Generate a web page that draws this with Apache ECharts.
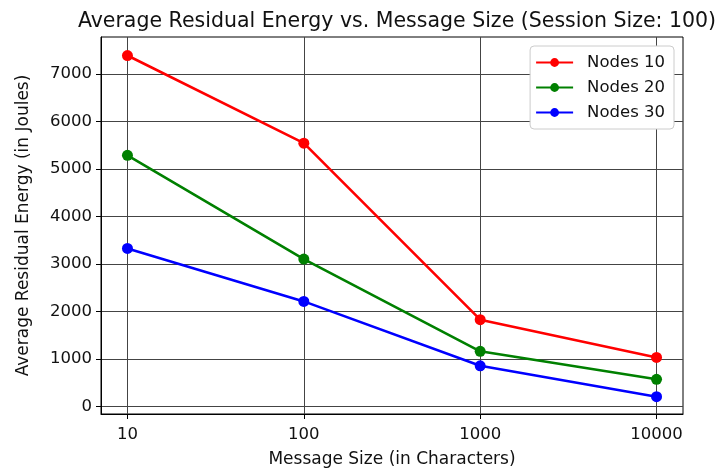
<!DOCTYPE html>
<html>
<head>
<meta charset="utf-8">
<script src="https://cdn.jsdelivr.net/npm/echarts@6/dist/echarts.min.js"></script>
<style>
  html, body { margin: 0; padding: 0; background: #fff; }
  #chart { width: 718px; height: 473px; }
</style>
</head>
<body>
<div id="chart"></div>
<script>
// message sizes (x, log scale) and residual energy per node count
const messageSizes = [10, 100, 1000, 10000];
const nodes10 = [7390, 5545, 1830, 1035];
const nodes20 = [5290, 3105, 1165, 575];
const nodes30 = [3330, 2215, 860, 210];
const yTicks = [0, 1000, 2000, 3000, 4000, 5000, 6000, 7000];

const font = 'DejaVu Sans';

// x is drawn on a value axis holding log10 of the size (matplotlib log axis)
function toPoints(values) {
    return messageSizes.map((s, i) => [Math.log10(s), values[i]]);
}

function makeSeries(name, color, values) {
    return {
        name: name,
        type: 'line',
        data: toPoints(values),
        symbol: 'circle',
        symbolSize: 11,
        lineStyle: { width: 2.6, color: color },
        itemStyle: { color: color },
        emphasis: { disabled: true }
    };
}

let option = {
    animation: false,
    backgroundColor: '#fff',
    textStyle: { fontFamily: font },
    title: {
        text: 'Average Residual Energy vs. Message Size (Session Size: 100)',
        left: 392,
        textAlign: 'center',
        top: 6,
        textStyle: { fontFamily: font, fontSize: 20.5, fontWeight: 'normal', color: '#111' }
    },
    legend: {
        right: 44,
        top: 46,
        orient: 'vertical',
        backgroundColor: '#fff',
        borderColor: '#cccccc',
        borderWidth: 1,
        borderRadius: 4,
        padding: [8, 9, 8, 5],
        itemGap: 8,
        itemWidth: 37,
        itemHeight: 11,
        textStyle: { fontFamily: font, fontSize: 16.5, color: '#111', padding: [0, 0, 0, 9] },
        data: ['Nodes 10', 'Nodes 20', 'Nodes 30']
    },
    grid: {
        left: 101,
        right: 35,
        top: 37,
        bottom: 56,
        show: true,
        borderColor: '#000',
        borderWidth: 1,
        backgroundColor: 'transparent'
    },
    xAxis: {
        type: 'value',
        min: 0.85,
        max: 4.15,
        name: 'Message Size (in Characters)',
        nameLocation: 'middle',
        nameGap: 37,
        nameTextStyle: { fontFamily: font, fontSize: 17, color: '#111' },
        axisLine: { show: true, onZero: false, lineStyle: { color: '#000' } },
        axisTick: {
            show: true, length: 5, lineStyle: { color: '#000' },
            customValues: messageSizes.map(s => Math.log10(s))
        },
        axisLabel: {
            fontFamily: font, fontSize: 16.5, color: '#111', margin: 12,
            customValues: messageSizes.map(s => Math.log10(s)),
            formatter: v => String(Math.round(Math.pow(10, v)))
        },
        splitLine: { show: true, lineStyle: { color: '#444', width: 1 } }
    },
    yAxis: {
        type: 'value',
        min: -155,
        max: 7780,
        name: 'Average Residual Energy (in Joules)',
        nameLocation: 'middle',
        nameGap: 69,
        nameTextStyle: { fontFamily: font, fontSize: 17, color: '#111' },
        axisLine: { show: true, onZero: false, lineStyle: { color: '#000' } },
        axisTick: {
            show: true, length: 5, lineStyle: { color: '#000' },
            customValues: yTicks
        },
        axisLabel: {
            fontFamily: font, fontSize: 16.5, color: '#111', margin: 9,
            customValues: yTicks,
            formatter: v => String(v)
        },
        splitLine: { show: true, lineStyle: { color: '#444', width: 1 } }
    },
    series: [
        makeSeries('Nodes 10', '#ff0000', nodes10),
        makeSeries('Nodes 20', '#008000', nodes20),
        makeSeries('Nodes 30', '#0000ff', nodes30)
    ]
};

let chart = echarts.init(document.getElementById('chart'));
chart.setOption(option);
</script>
</body>
</html>
